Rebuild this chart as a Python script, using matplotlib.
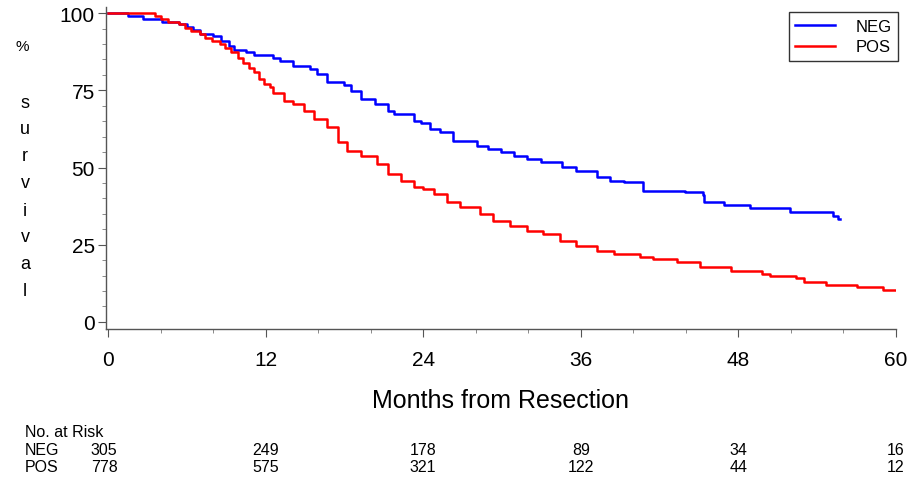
import matplotlib
matplotlib.use("Agg")
import matplotlib.pyplot as plt
import matplotlib.transforms as mtransforms
from matplotlib.ticker import MultipleLocator

plt.rcParams['font.family'] = ['Liberation Sans', 'DejaVu Sans']

# Kaplan-Meier curves (months, % survival)
neg_months = [0, 1.5, 2.7, 4.1, 5.4, 6.0, 6.5, 7.0, 8.0, 8.6, 9.2, 9.6, 10.5, 11.1,
              12.6, 13.1, 14.1, 15.4, 15.9, 16.7, 18.0, 18.5, 19.3, 20.3, 21.3, 21.8,
              23.3, 23.8, 24.5, 25.3, 26.3, 28.1, 28.9, 29.9, 30.9, 31.9, 33.0, 34.6,
              35.6, 37.2, 38.2, 39.3, 40.7, 43.9, 45.3, 45.4, 46.9, 48.9, 51.9, 55.2,
              55.6, 55.7]
neg_surv = [100, 99.1, 98.1, 97.2, 96.4, 95.6, 94.6, 93.4, 92.5, 91.0, 89.4, 88.1, 87.3, 86.3,
            85.6, 84.6, 82.9, 81.9, 80.3, 77.6, 76.7, 74.9, 72.2, 70.6, 68.4, 67.3,
            65.1, 64.3, 62.5, 61.4, 58.7, 57.1, 56.0, 54.9, 53.8, 52.8, 51.7, 50.1,
            49.0, 46.8, 45.7, 45.2, 42.5, 42.0, 41.0, 38.7, 37.9, 36.8, 35.5, 34.2,
            33.3, 33.3]

pos_months = [0, 3.6, 4.0, 4.6, 5.4, 5.9, 6.3, 7.0, 7.4, 7.9, 8.5, 8.9, 9.4, 9.9,
              10.3, 10.7, 11.1, 11.5, 11.9, 12.3, 12.6, 13.4, 14.1, 14.9, 15.7, 16.7,
              17.5, 18.2, 19.3, 20.5, 21.3, 22.3, 23.3, 24.0, 24.8, 25.8, 26.8, 28.3,
              29.3, 30.6, 31.9, 33.1, 34.4, 35.6, 37.2, 38.5, 40.5, 41.5, 43.3, 45.1,
              47.4, 49.8, 50.4, 52.4, 53.0, 54.7, 57.0, 59.0, 59.9]
pos_surv = [100, 99.1, 98.1, 97.2, 96.4, 95.3, 94.3, 93.2, 92.1, 91.0, 90.0, 88.6, 87.3, 85.6,
            84.0, 82.4, 80.8, 78.6, 77.0, 76.0, 74.3, 71.6, 70.6, 68.4, 65.7, 63.0,
            58.2, 55.4, 53.8, 51.1, 47.9, 45.7, 43.6, 43.0, 41.4, 38.7, 37.1, 35.0,
            32.8, 31.2, 29.5, 28.5, 26.3, 24.7, 23.1, 22.0, 20.9, 20.4, 19.3, 17.7,
            16.6, 15.5, 14.8, 14.1, 12.8, 12.0, 11.2, 10.4, 10.4]

# number at risk table
risk_months = [0, 12, 24, 36, 48, 60]
neg_at_risk = [305, 249, 178, 89, 34, 16]
pos_at_risk = [778, 575, 321, 122, 44, 12]

x_ticks = [0, 12, 24, 36, 48, 60]
y_ticks = [0, 25, 50, 75, 100]
y_label_chars = ["%", "s", "u", "r", "v", "i", "v", "a", "l"]

W, H = 916, 481
fig = plt.figure(figsize=(W / 100, H / 100), dpi=100)
ax = fig.add_axes([106 / W, 1 - 330 / H, 790 / W, 322 / H])

ax.step(neg_months, neg_surv, where='post', color='#0000ff', lw=1.8, label='NEG')
ax.step(pos_months, pos_surv, where='post', color='#ff0000', lw=1.8, label='POS')

ax.set_xlim(-0.15, 60)
ax.set_ylim(-2.3, 102)

ax.set_xticks(x_ticks)
ax.set_yticks(y_ticks)
ax.xaxis.set_minor_locator(MultipleLocator(4))
ax.yaxis.set_minor_locator(MultipleLocator(5))
ax.tick_params(axis='both', which='major', labelsize=15, length=6, color='#555555')
ax.tick_params(axis='both', which='minor', length=3, color='#777777')
ax.tick_params(axis='x', which='major', pad=9)
ax.tick_params(axis='y', which='major', pad=2)

for side in ['top', 'right']:
    ax.spines[side].set_visible(False)
for side in ['left', 'bottom']:
    ax.spines[side].set_color('#555555')
    ax.spines[side].set_linewidth(1.0)

ax.set_xlabel("Months from Resection", fontsize=18, labelpad=14)

# legend box in the top right
leg = ax.legend(loc='upper right', bbox_to_anchor=(898 / W, 1 - 13 / H),
                bbox_transform=fig.transFigure, borderaxespad=0, fontsize=12,
                fancybox=False, framealpha=1, edgecolor='#333333',
                handlelength=2.4, handletextpad=1.2, borderpad=0.4, labelspacing=0.35)
leg.get_frame().set_linewidth(1.0)

# vertical "% survival" label, one letter per line
fig.text(22 / W, 1 - 47 / H, y_label_chars[0], fontsize=11, ha='center', va='center')
for i, ch in enumerate(y_label_chars[1:]):
    fig.text(25 / W, 1 - (103 + 27 * i) / H, ch, fontsize=13, ha='center', va='center')

# no. at risk rows under the axis
trans = mtransforms.blended_transform_factory(ax.transData, fig.transFigure)
fig.text(25 / W, 1 - 433 / H, "No. at Risk", fontsize=11.5, ha='left', va='center')
fig.text(25 / W, 1 - 451 / H, "NEG", fontsize=11.5, ha='left', va='center')
fig.text(25 / W, 1 - 468 / H, "POS", fontsize=11.5, ha='left', va='center')
for m, n_neg, n_pos in zip(risk_months, neg_at_risk, pos_at_risk):
    ax.text(m - 0.3 if m == 0 else m, 1 - 451 / H, str(n_neg), transform=trans,
            fontsize=11.5, ha='center', va='center')
    ax.text(m - 0.3 if m == 0 else m, 1 - 468 / H, str(n_pos), transform=trans,
            fontsize=11.5, ha='center', va='center')

fig.savefig("out.png", dpi=100)
